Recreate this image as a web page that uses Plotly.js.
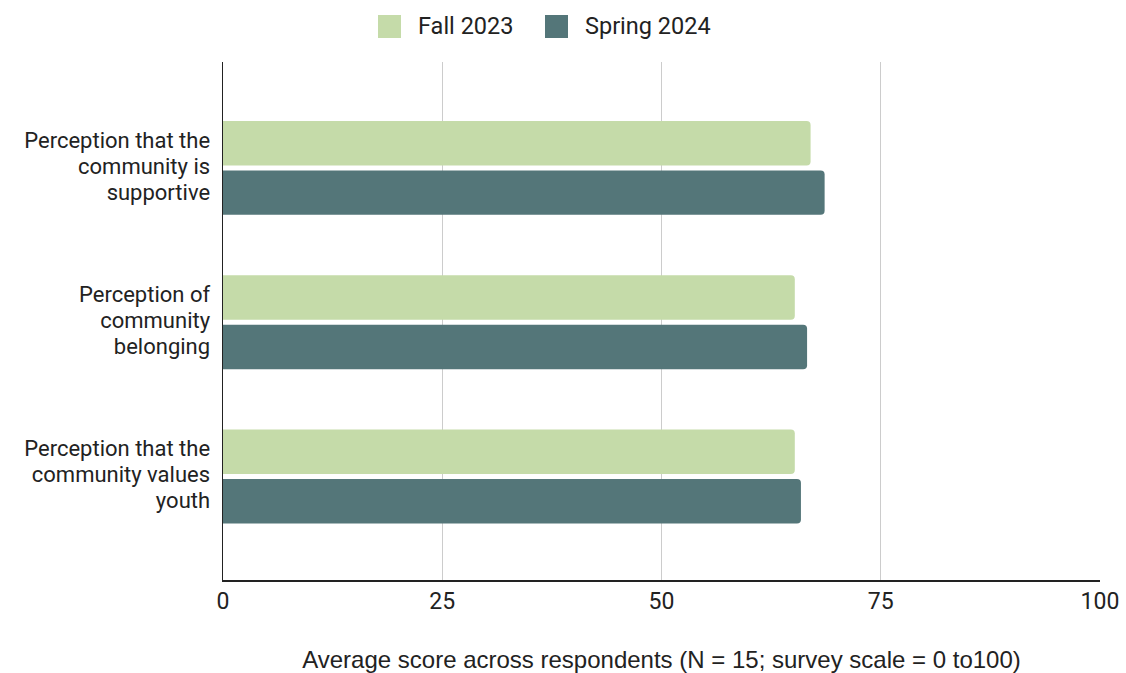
<!DOCTYPE html>
<html>
<head>
<meta charset="utf-8">
<script src="https://cdn.plot.ly/plotly-3.0.1.min.js"></script>
<style>
  html, body { margin: 0; padding: 0; background: #fff; }
  #chart { width: 1126px; height: 673px; }
</style>
</head>
<body>
<div id="chart"></div>
<script>
// Survey measures (top to bottom), with line breaks for the axis labels
const categories = [
  "Perception that the<br>community is<br>supportive",
  "Perception of<br>community<br>belonging",
  "Perception that the<br>community values<br>youth"
];
const seriesNames = ["Fall 2023", "Spring 2024"];
const fall2023 = [67.0, 65.2, 65.2];
const spring2024 = [68.6, 66.6, 65.9];
const xTicks = [0, 25, 50, 75, 100];
const xTitle = "Average score across respondents (N = 15; survey scale = 0 to100)";

const colors = ["#c5dba9", "#547679"];
const textColor = "#222222";

const traces = [fall2023, spring2024].map((vals, i) => ({
  type: "bar",
  orientation: "h",
  name: seriesNames[i],
  y: categories,
  x: vals,
  marker: { color: colors[i], cornerradius: 4, line: { width: 0 } },
  showlegend: false,
  hoverinfo: "x+name"
}));

const plotLeft = 223, plotW = 877, plotTop = 62, plotH = 518;
const px2x = p => (p - plotLeft) / plotW;
const px2y = p => 1 - (p - plotTop) / plotH;

const shapes = [];
const annotations = [];

// Legend: swatches + labels above the plot
const swatchX = [378, 545];
seriesNames.forEach((name, i) => {
  shapes.push({
    type: "rect", xref: "paper", yref: "paper",
    x0: px2x(swatchX[i]), x1: px2x(swatchX[i] + 23),
    y0: px2y(38), y1: px2y(15),
    fillcolor: colors[i], line: { width: 0 }
  });
  annotations.push({
    xref: "paper", yref: "paper",
    x: px2x(swatchX[i] + 38), y: px2y(26),
    xanchor: "left", yanchor: "middle",
    text: name, showarrow: false,
    font: { family: "Roboto", size: 23.5, color: textColor }
  });
});

const layout = {
  width: 1126, height: 673,
  margin: { l: plotLeft, r: 1126 - plotLeft - plotW, t: plotTop, b: 673 - plotTop - plotH, pad: 0 },
  paper_bgcolor: "#ffffff",
  plot_bgcolor: "#ffffff",
  barmode: "group",
  bargap: 0.36,
  bargroupgap: 0.1,
  showlegend: false,
  font: { family: "Roboto", color: textColor },
  xaxis: {
    range: [0, 100],
    tickvals: xTicks,
    ticktext: xTicks.map(String),
    showgrid: true,
    gridcolor: "#cccccc",
    gridwidth: 1,
    zeroline: false,
    showline: true,
    linecolor: "#222222",
    linewidth: 1.5,
    ticks: "",
    ticklabelstandoff: 0,
    tickfont: { family: "Roboto", size: 23, color: textColor },
    title: {
      text: xTitle,
      font: { family: "Liberation Sans", size: 24, color: textColor },
      standoff: 40
    },
    fixedrange: true
  },
  yaxis: {
    type: "category",
    range: [2.671, -0.687],
    showgrid: false,
    zeroline: false,
    showline: true,
    linecolor: "#222222",
    linewidth: 1.5,
    ticks: "",
    ticklabelstandoff: 7,
    tickfont: { family: "Roboto", size: 22, color: textColor },
    fixedrange: true
  },
  shapes: shapes,
  annotations: annotations
};

// Tighten the line spacing of the multi-line category labels, keeping each centred
const LINE_STEP = 26;
const LABEL_LIFT = 2;
function tightenLabels() {
  document.querySelectorAll("#chart .ytick text").forEach(t => {
    const lines = Array.from(t.querySelectorAll("tspan.line"));
    if (lines.length < 2) return;
    const fs = parseFloat(getComputedStyle(t).fontSize) || 22;
    const toPx = v => {
      v = (v || "0").trim();
      return v.endsWith("em") ? parseFloat(v) * fs : (parseFloat(v) || 0);
    };
    const b0 = t.getBBox();
    const c0 = b0.y + b0.height / 2;
    const d0 = toPx(lines[0].getAttribute("dy"));
    lines.forEach((ts, k) => ts.setAttribute("dy", (d0 + k * LINE_STEP) + "px"));
    const b1 = t.getBBox();
    const shift = c0 - (b1.y + b1.height / 2) - LABEL_LIFT;
    lines.forEach((ts, k) => ts.setAttribute("dy", (d0 + k * LINE_STEP + shift) + "px"));
  });
}

Plotly.newPlot("chart", traces, layout, { displayModeBar: false, staticPlot: true })
  .then(tightenLabels);
</script>
</body>
</html>
